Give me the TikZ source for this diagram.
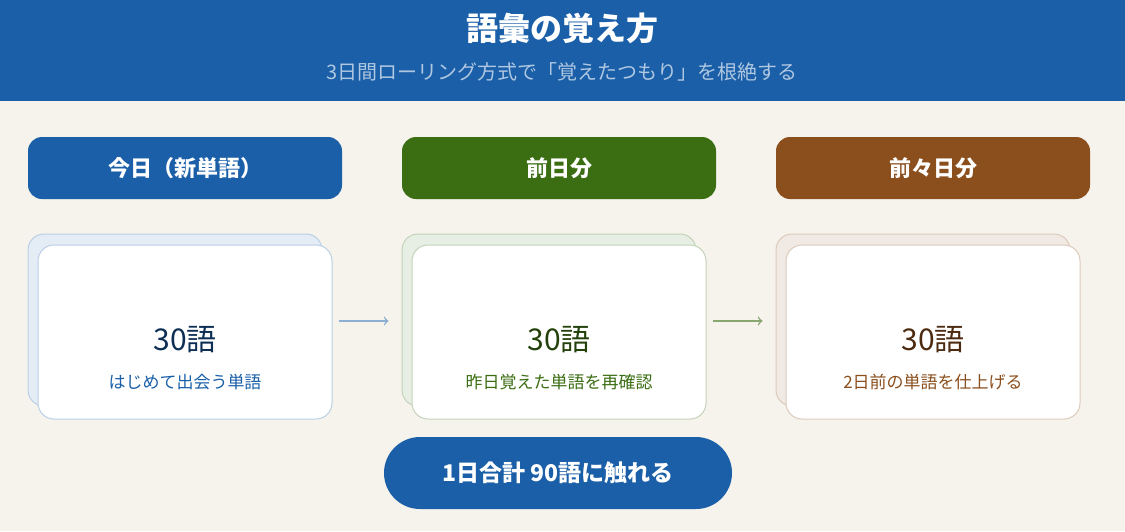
\documentclass[tikz,border=0pt]{standalone}
\usepackage{fontspec}
\setmainfont{Noto Sans CJK JP}
\usetikzlibrary{positioning}
\definecolor{bgCream}{HTML}{F5F3EC}
\definecolor{hdBlue}{HTML}{1A5FA8}
\definecolor{hdGreen}{HTML}{3B6E13}
\definecolor{hdBrown}{HTML}{8B4F1E}
\tikzset{
  myHead/.style={rounded corners=7pt, minimum width=157pt, minimum height=31pt, text=white, font=\bfseries\fontsize{11}{13}\selectfont},
  myCard/.style={rounded corners=8pt, fill=white, minimum width=147pt, minimum height=87pt, line width=0.5pt},
  myBack/.style={rounded corners=8pt, minimum width=147pt, minimum height=86pt, line width=0.5pt},
  myArrow/.style={->, line width=0.7pt}
}
\begin{document}
\begin{tikzpicture}[x=0.5pt,y=-0.5pt]
\useasboundingbox (0,0) rectangle (1125,531);
\fill[bgCream] (0,0) rectangle (1125,531);
\fill[hdBlue] (0,0) rectangle (1125,101);

\node[text=white, font=\bfseries\fontsize{16}{18}\selectfont] (title) at (562,28) {語彙の覚え方};
\node[text=hdBlue!35!white, font=\fontsize{10}{12}\selectfont] (subtitle) at (562,72) {3日間ローリング方式で「覚えたつもり」を根絶する};

% columns
\foreach \cx/\col/\head/\sub/\num/\nm in {185/hdBlue/今日（新単語）/はじめて出会う単語/hdBlue!50!black/a,
                                          559/hdGreen/前日分/昨日覚えた単語を再確認/hdGreen!60!black/b,
                                          933/hdBrown/前々日分/2日前の単語を仕上げる/hdBrown!55!black/c}
{
\node[myHead, fill=\col] (head\nm) at (\cx,168) {\head};
\node[myBack, fill=\col!12!white, draw=\col!30!white] (back\nm) at (\cx-10,320) {};
\node[myCard, draw=\col!30!white] (card\nm) at (\cx,332) {};
\node[text=\num, font=\fontsize{15}{17}\selectfont] (num\nm) at (\cx,340) {30語};
\node[text=\col, font=\fontsize{8.5}{10}\selectfont] (sub\nm) at (\cx,382) {\sub};
}

\draw[myArrow, hdBlue!50!white] (carda.east) ++(6,-11) coordinate (s1) -- ++(50,0) coordinate (e1);
\draw[myArrow, hdGreen!60!white] (cardb.east) ++(6,-11) coordinate (s2) -- ++(50,0) coordinate (e2);

\node[fill=hdBlue, rounded corners=18pt, minimum width=174pt, minimum height=36pt, text=white, font=\bfseries\fontsize{11.5}{13}\selectfont] (total) at (558,473) {1日合計 90語に触れる};
\end{tikzpicture}
\end{document}
